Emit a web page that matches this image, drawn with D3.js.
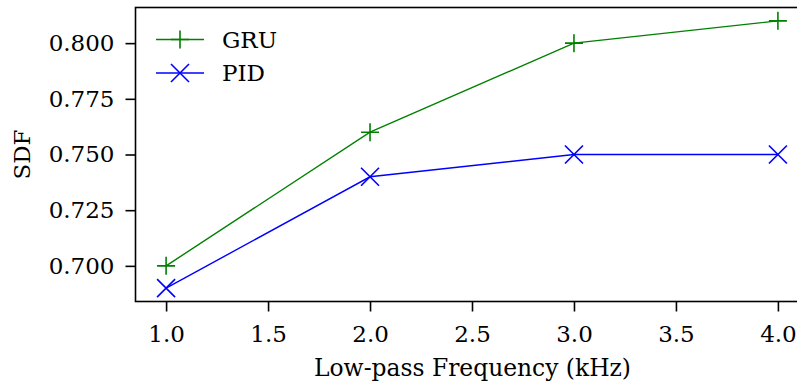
<!DOCTYPE html>
<html><head><meta charset="utf-8">
<script src="https://cdn.jsdelivr.net/npm/d3@7"></script>
<style>body{margin:0;background:#fff}svg text{font-family:"DejaVu Serif",serif}</style>
</head><body>
<svg id="c" width="797" height="384"></svg>
<script>
const freqs = [1.0, 2.0, 3.0, 4.0];
const gru = [0.70, 0.76, 0.80, 0.81];
const pid = [0.69, 0.74, 0.75, 0.75];
const xTicks = [1.0, 1.5, 2.0, 2.5, 3.0, 3.5, 4.0];
const yTicks = [0.700, 0.725, 0.750, 0.775, 0.800];

const svg = d3.select("#c");
const L = 135.5, R = 808.5, T = 7.5, B = 301.5;
const x = d3.scaleLinear().domain([0.85, 4.15]).range([L, R]);
const y = d3.scaleLinear().domain([0.684, 0.816]).range([B, T]);
const fs = 23;

const xa = svg.append("g").attr("transform", `translate(0,${B})`)
  .call(d3.axisBottom(x).tickValues(xTicks).tickFormat(d3.format(".1f")).tickSizeOuter(0).tickSize(10).tickPadding(14));
const ya = svg.append("g").attr("transform", `translate(${L},0)`)
  .call(d3.axisLeft(y).tickValues(yTicks).tickFormat(d3.format(".3f")).tickSizeOuter(0).tickSize(10).tickPadding(11));
[xa, ya].forEach(a => {
  a.select(".domain").remove();
  a.selectAll("line").attr("stroke", "#000").attr("stroke-width", 1.6);
  a.selectAll("text").attr("font-size", fs).attr("fill", "#000").attr("font-family", "DejaVu Serif");
});
// spines
svg.append("rect").attr("x", L).attr("y", T).attr("width", R - L).attr("height", B - T)
  .attr("fill", "none").attr("stroke", "#000").attr("stroke-width", 1.6);

const line = d3.line().x((d, i) => x(freqs[i])).y(d => y(d));
const ms = 9;
function plus(g, cx, cy, col) {
  g.append("path").attr("d", `M${cx - ms},${cy}H${cx + ms}M${cx},${cy - ms}V${cy + ms}`)
    .attr("stroke", col).attr("stroke-width", 1.6).attr("fill", "none");
}
function cross(g, cx, cy, col) {
  const k = ms;
  g.append("path").attr("d", `M${cx - k},${cy - k}L${cx + k},${cy + k}M${cx - k},${cy + k}L${cx + k},${cy - k}`)
    .attr("stroke", col).attr("stroke-width", 1.6).attr("fill", "none");
}
const series = [
  {name: "GRU", vals: gru, col: "#008000", mk: plus},
  {name: "PID", vals: pid, col: "#0000ff", mk: cross}
];
const plot = svg.append("g");
series.forEach(s => {
  plot.append("path").datum(s.vals).attr("d", line).attr("fill", "none")
    .attr("stroke", s.col).attr("stroke-width", 1.4);
  s.vals.forEach((v, i) => s.mk(plot, x(freqs[i]), y(v), s.col));
});

// legend
const lg = svg.append("g");
series.forEach((s, i) => {
  const cy = 39.5 + i * 33.5;
  lg.append("line").attr("x1", 156).attr("x2", 204).attr("y1", cy).attr("y2", cy)
    .attr("stroke", s.col).attr("stroke-width", 1.4);
  s.mk(lg, 180, cy, s.col);
  lg.append("text").attr("x", 222).attr("y", cy).attr("dy", "0.36em")
    .attr("font-size", fs).text(s.name);
});

svg.append("text").attr("x", 472.5).attr("y", 376).attr("text-anchor", "middle")
  .attr("font-size", 23.4).text("Low-pass Frequency (kHz)");
svg.append("text").attr("transform", `translate(30,${(T + B) / 2}) rotate(-90)`)
  .attr("text-anchor", "middle").attr("font-size", fs).text("SDF");
</script>
</body></html>
